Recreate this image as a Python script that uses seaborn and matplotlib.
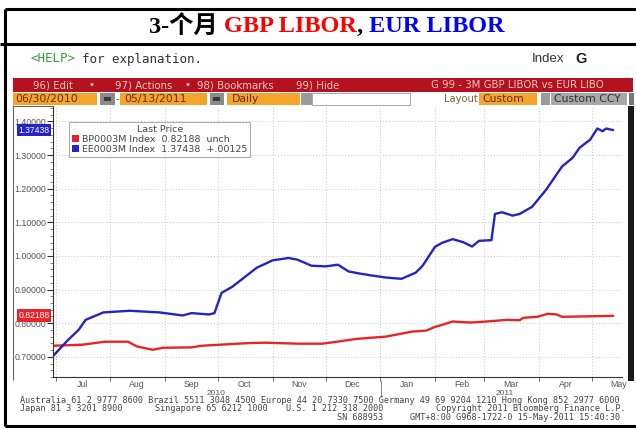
import datetime as dt
import matplotlib
matplotlib.use("Agg")
import matplotlib.pyplot as plt
import matplotlib.dates as mdates
import matplotlib.transforms as mtrans
from matplotlib.ticker import FormatStrFormatter, MultipleLocator
from matplotlib.patches import Rectangle, Patch
from matplotlib.lines import Line2D
import seaborn as sns
import pandas as pd

sns.set_theme(style="white")
plt.rcParams['font.family'] = ['Liberation Sans', 'Noto Sans CJK SC', 'DejaVu Sans']

# 3M GBP LIBOR (BP0003M)
gbp_dates = ['2010-06-30', '2010-07-16', '2010-07-29', '2010-08-11', '2010-08-16', '2010-08-25',
             '2010-08-31', '2010-09-16', '2010-09-22', '2010-10-02', '2010-10-19', '2010-10-28',
             '2010-11-16', '2010-11-29', '2010-12-09', '2010-12-18', '2010-12-27', '2011-01-04',
             '2011-01-12', '2011-01-19', '2011-01-27', '2011-02-01', '2011-02-05', '2011-02-11',
             '2011-02-21', '2011-03-02', '2011-03-14', '2011-03-21', '2011-03-23', '2011-03-31',
             '2011-04-06', '2011-04-11', '2011-04-14', '2011-04-24', '2011-05-13']
gbp_vals = [0.733, 0.736, 0.745, 0.745, 0.731, 0.721,
            0.727, 0.728, 0.733, 0.736, 0.741, 0.742,
            0.739, 0.739, 0.746, 0.753, 0.757, 0.760,
            0.768, 0.775, 0.778, 0.789, 0.795, 0.805,
            0.802, 0.805, 0.810, 0.809, 0.816, 0.819,
            0.828, 0.826, 0.819, 0.820, 0.82188]

# 3M EUR LIBOR (EE0003M)
eur_dates = ['2010-06-30', '2010-07-08', '2010-07-14', '2010-07-18', '2010-07-28', '2010-08-12',
             '2010-08-29', '2010-09-11', '2010-09-16', '2010-09-26', '2010-09-29', '2010-10-03',
             '2010-10-09', '2010-10-23', '2010-11-01', '2010-11-10', '2010-11-15', '2010-11-23',
             '2010-12-01', '2010-12-08', '2010-12-14', '2010-12-20', '2010-12-27', '2011-01-04',
             '2011-01-13', '2011-01-21', '2011-01-25', '2011-01-29', '2011-02-01', '2011-02-05',
             '2011-02-11', '2011-02-17', '2011-02-22', '2011-02-26', '2011-03-05', '2011-03-07',
             '2011-03-11', '2011-03-17', '2011-03-21', '2011-03-28', '2011-04-05', '2011-04-14',
             '2011-04-20', '2011-04-24', '2011-04-30', '2011-05-04', '2011-05-07', '2011-05-09',
             '2011-05-13']
eur_vals = [0.705, 0.750, 0.780, 0.810, 0.832, 0.837,
            0.832, 0.823, 0.830, 0.826, 0.830, 0.890,
            0.908, 0.965, 0.987, 0.994, 0.989, 0.971,
            0.969, 0.974, 0.954, 0.948, 0.942, 0.936,
            0.932, 0.950, 0.971, 1.003, 1.027, 1.039,
            1.050, 1.041, 1.028, 1.045, 1.047, 1.125,
            1.130, 1.120, 1.125, 1.146, 1.197, 1.266,
            1.292, 1.322, 1.346, 1.379, 1.371, 1.379,
            1.37438]

y_ticks = [0.7, 0.8, 0.9, 1.0, 1.1, 1.2, 1.3, 1.4]
month_labels = ['Jul', 'Aug', 'Sep', 'Oct', 'Nov', 'Dec', 'Jan', 'Feb', 'Mar', 'Apr', 'May']
year_labels = ['2010', '2011']
legend_labels = ['BP0003M Index  0.82188  unch', 'EE0003M Index  1.37438  +.00125']
last_vals = [0.82188, 1.37438]
colors = {'BP0003M': '#e8242a', 'EE0003M': '#2323c8'}

df = pd.concat([
    pd.DataFrame({'date': pd.to_datetime(gbp_dates), 'rate': gbp_vals, 'series': 'BP0003M'}),
    pd.DataFrame({'date': pd.to_datetime(eur_dates), 'rate': eur_vals, 'series': 'EE0003M'}),
])

W, H = 636, 429
fig = plt.figure(figsize=(6.36, 4.29), dpi=100)


def fx(x):
    return x / W


def fy(y):
    return 1 - y / H


def rect(x0, y0, x1, y1, fc, ec='none', lw=0, z=1):
    fig.add_artist(Rectangle((fx(x0), fy(y1)), (x1 - x0) / W, (y1 - y0) / H,
                             transform=fig.transFigure, fc=fc, ec=ec, lw=lw, zorder=z))


def line(x0, y0, x1, y1, lw=1.0, color='black', z=2):
    fig.add_artist(Line2D([fx(x0), fx(x1)], [fy(y0), fy(y1)], transform=fig.transFigure,
                          color=color, lw=lw, zorder=z, solid_capstyle='butt'))


# table frame
line(5, 9, 636, 9, lw=2.2)
line(0, 43.5, 636, 43.5, lw=2.2)
line(4.5, 9, 4.5, 426, lw=2.2)
line(4.5, 425.5, 636, 425.5, lw=2.2)

# title in coloured pieces
renderer = fig.canvas.get_renderer()
pieces = [("3-个月 ", 'black'), ("GBP LIBOR", '#ff0000'), (", ", 'black'), ("EUR LIBOR", '#0000ff')]
texts = []
total = 0
for s, c in pieces:
    t = fig.text(0, fy(26), s, color=c, fontsize=17.5, fontweight='bold', va='center',
                 family=['Liberation Serif', 'Noto Sans CJK SC'])
    w = t.get_window_extent(renderer).width
    texts.append((t, w))
    total += w
x = 327 - total / 2
for t, w in texts:
    t.set_x(fx(x))
    x += w

# bloomberg header
mono = 'DejaVu Sans Mono'
fig.text(fx(30), fy(59), "<HELP>", color='#3c9a3c', fontsize=9, family=mono, va='center')
fig.text(fx(82), fy(59), "for explanation.", color='#333333', fontsize=9, family=mono, va='center')
fig.text(fx(532), fy(59), "Index", color='#333333', fontsize=9.5, va='center')
fig.text(fx(575), fy(59), "G", color='#222222', fontsize=10.5, fontweight='bold', va='center')

rect(13, 78, 633, 92, '#b3121e')
bar = dict(color='#f2c6c6', fontsize=7.3, family='DejaVu Sans', va='center')
fig.text(fx(33), fy(85), "96) Edit", **bar)
fig.text(fx(88), fy(85), "•", **bar)
fig.text(fx(115), fy(85), "97) Actions", **bar)
fig.text(fx(184), fy(85), "•", **bar)
fig.text(fx(197), fy(85), "98) Bookmarks", **bar)
fig.text(fx(296), fy(85), "99) Hide", **bar)
fig.text(fx(431), fy(85), "G 99 - 3M GBP LIBOR vs EUR LIBO", **bar)

orange = '#f5a42a'
sel = dict(color='#6a2a10', fontsize=7.8, family='DejaVu Sans', va='center')
rect(13, 93, 97, 105, orange)
fig.text(fx(15), fy(99), "06/30/2010", **sel)
rect(100, 93, 115, 105, '#8a8a8a')
rect(104, 97, 111, 101, '#3a3a3a')
fig.text(fx(116), fy(99), "-", color='#444444', fontsize=7.5, va='center')
rect(120, 93, 207, 105, orange)
fig.text(fx(124), fy(99), "05/13/2011", **sel)
rect(210, 93, 224, 105, '#8a8a8a')
rect(213, 97, 220, 101, '#3a3a3a')
rect(227, 93, 300, 105, orange)
fig.text(fx(232), fy(99), "Daily", **sel)
rect(301, 93, 312, 105, '#9a9a9a')
rect(312, 93, 410, 105, 'white', ec='#999999', lw=0.6)
fig.text(fx(444), fy(99), "Layout", color='#8a5a30', fontsize=7.2, family='DejaVu Sans', va='center')
rect(479, 93, 537, 105, orange)
fig.text(fx(482), fy(99), "Custom", **sel)
rect(541, 93, 550, 105, '#9a9a9a')
rect(551, 93, 627, 105, '#a8a8a8')
fig.text(fx(554), fy(99), "Custom CCY", color='#333333', fontsize=7.8, family='DejaVu Sans',
         va='center')
rect(629, 93, 634, 105, '#777777')

# chart panel borders
line(13, 105, 13, 380, lw=0.8, color='#666666')
line(13, 105.5, 53, 105.5, lw=0.8, color='#666666')
rect(628, 106, 634, 381, '#1a1a1a')

# main chart
ax = fig.add_axes([fx(53), fy(377), (622 - 53) / W, (377 - 106) / H])
sns.lineplot(data=df, x='date', y='rate', hue='series', palette=colors, linewidth=1.7,
             ax=ax, legend=False)
ax.set_xlim(dt.datetime(2010, 6, 29, 12), dt.datetime(2011, 5, 18))
ax.set_ylim(0.640, 1.446)
ax.set_xlabel('')
ax.set_ylabel('')

for side in ['top', 'right']:
    ax.spines[side].set_visible(False)
for side in ['left', 'bottom']:
    ax.spines[side].set_color('#333333')
    ax.spines[side].set_linewidth(0.8)

ax.set_yticks(y_ticks)
ax.yaxis.set_major_formatter(FormatStrFormatter('%.5f'))
ax.yaxis.set_minor_locator(MultipleLocator(0.02))
ax.tick_params(axis='y', which='major', left=True, length=4, width=0.8, color='#333333',
               labelsize=6.3, labelcolor='#555555', pad=1)
ax.tick_params(axis='y', which='minor', left=True, length=2, width=0.5, color='#555555')

ax.xaxis.set_major_locator(mdates.MonthLocator())
ax.xaxis.set_major_formatter(plt.NullFormatter())
ax.xaxis.set_minor_locator(mdates.MonthLocator(bymonthday=16))
ax.xaxis.set_minor_formatter(mdates.DateFormatter('%b'))
ax.tick_params(axis='x', which='major', bottom=True, length=3, width=0.6, color='#555555')
ax.tick_params(axis='x', which='minor', bottom=False, length=0, labelsize=6.3,
               labelcolor='#555555', pad=2)

ax.grid(True, which='major', axis='both', color='#c8c8c8', linestyle=(0, (1, 2)), linewidth=0.7)

# last value tags on the y axis
blend = mtrans.blended_transform_factory(ax.transAxes, ax.transData)
tag_colors = ['#e8242a', '#2323c8']
for v, c in zip(last_vals, tag_colors):
    ax.text(-0.006, v, f"{v:.5f}", transform=blend, ha='right', va='center', color='white',
            fontsize=6.2, clip_on=False, zorder=5,
            bbox=dict(boxstyle='square,pad=0.22', fc=c, ec='none'))

# legend box
handles = [Patch(facecolor=colors['BP0003M'], edgecolor='none'),
           Patch(facecolor=colors['EE0003M'], edgecolor='none')]
leg = ax.legend(handles, legend_labels, title='Last Price', loc='upper left',
                bbox_to_anchor=(fx(69), fy(122)), bbox_transform=fig.transFigure,
                borderaxespad=0, prop={'family': 'DejaVu Sans', 'size': 6.8},
                title_fontproperties={'family': 'DejaVu Sans', 'size': 6.8},
                frameon=True, fancybox=False,
                handlelength=0.8, handleheight=0.8, handletextpad=0.3, borderpad=0.3,
                labelspacing=0.1, edgecolor='#999999')
leg.get_frame().set_linewidth(0.8)
for t in leg.get_texts():
    t.set_color('#444444')
leg.get_title().set_color('#444444')

# year labels and separator
fig.text(fx(216), fy(393.5), year_labels[0], color='#555555', fontsize=6, ha='center', va='center')
fig.text(fx(505), fy(393.5), year_labels[1], color='#555555', fontsize=6, ha='center', va='center')
line(381, 380, 381, 397, lw=0.6, color='#777777')

# footer
foot = dict(color='#444444', fontsize=6.1, family=mono, va='center')
fig.text(fx(20), fy(400.5), "Australia 61 2 9777 8600 Brazil 5511 3048 4500 Europe 44 20 7330 7500 "
         "Germany 49 69 9204 1210 Hong Kong 852 2977 6000", **foot)
fig.text(fx(20), fy(408.5), "Japan 81 3 3201 8900", **foot)
fig.text(fx(155), fy(408.5), "Singapore 65 6212 1000", **foot)
fig.text(fx(286), fy(408.5), "U.S. 1 212 318 2000", **foot)
fig.text(fx(436), fy(408.5), "Copyright 2011 Bloomberg Finance L.P.", **foot)
fig.text(fx(337), fy(417), "SN 688953", **foot)
fig.text(fx(410), fy(417), "GMT+8:00 G968-1722-0 15-May-2011 15:40:30", **foot)

fig.savefig('out.png', dpi=100)
